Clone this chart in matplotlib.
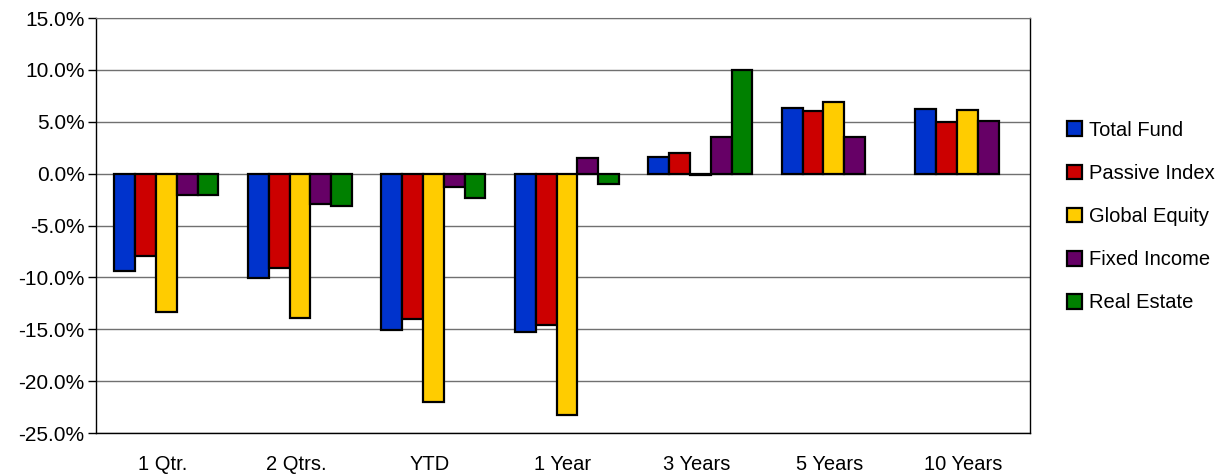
import numpy as np
from matplotlib import pyplot as plt
from matplotlib.ticker import FuncFormatter

plt.rcParams['font.family'] = ['Liberation Sans', 'DejaVu Sans']

# periods on the x axis
periods = ["1 Qtr.", "2 Qtrs.", "YTD", "1 Year", "3 Years", "5 Years", "10 Years"]

# returns in percent for each series
total_fund = [-9.4, -10.1, -15.1, -15.3, 1.6, 6.3, 6.2]
passive_index = [-7.9, -9.1, -14.0, -14.6, 2.0, 6.0, 5.0]
global_equity = [-13.3, -13.9, -22.0, -23.3, -0.1, 6.9, 6.1]
fixed_income = [-2.1, -2.9, -1.3, 1.5, 3.5, 3.5, 5.1]
real_estate = [-2.1, -3.1, -2.3, -1.0, 10.0, np.nan, np.nan]

series = [
    ("Total Fund", total_fund, "#0033CC"),
    ("Passive Index", passive_index, "#CC0000"),
    ("Global Equity", global_equity, "#FFCC00"),
    ("Fixed Income", fixed_income, "#660066"),
    ("Real Estate", real_estate, "#008000"),
]

fig = plt.figure(figsize=(12.22, 4.76), dpi=100)
ax = fig.add_axes([0.0783, 0.0903, 0.7647, 0.8717])

x = np.arange(len(periods))
width = 0.156
for i, (name, vals, color) in enumerate(series):
    offs = (i - 2) * width + 0.03
    ax.bar(x + offs, vals, width, color=color, edgecolor="black",
           linewidth=1.6, label=name, zorder=3)

ax.set_xlim(-0.5, len(periods) - 0.5)
ax.set_ylim(-25, 15)
ax.set_yticks(np.arange(-25, 16, 5))
ax.yaxis.set_major_formatter(FuncFormatter(lambda v, p: f"{v:.1f}%"))
ax.set_xticks(x)
ax.set_xticklabels(periods)
ax.tick_params(axis="x", length=0, pad=16, labelsize=14.5)
ax.tick_params(axis="y", length=6, width=1, direction="out", pad=2, labelsize=15)

ax.yaxis.grid(True, color="#707070", linewidth=1, zorder=0)
ax.set_axisbelow(True)
for s in ["left", "bottom", "right"]:
    ax.spines[s].set_color("black")
    ax.spines[s].set_linewidth(1)
ax.spines["top"].set_color("#707070")

fig.legend(loc="center left", bbox_to_anchor=(0.8665, 0.545), frameon=False,
           fontsize=14.5, handlelength=0.74, handleheight=0.74,
           handletextpad=0.35, labelspacing=1.2, borderaxespad=0)

fig.savefig("out.png", dpi=100)
